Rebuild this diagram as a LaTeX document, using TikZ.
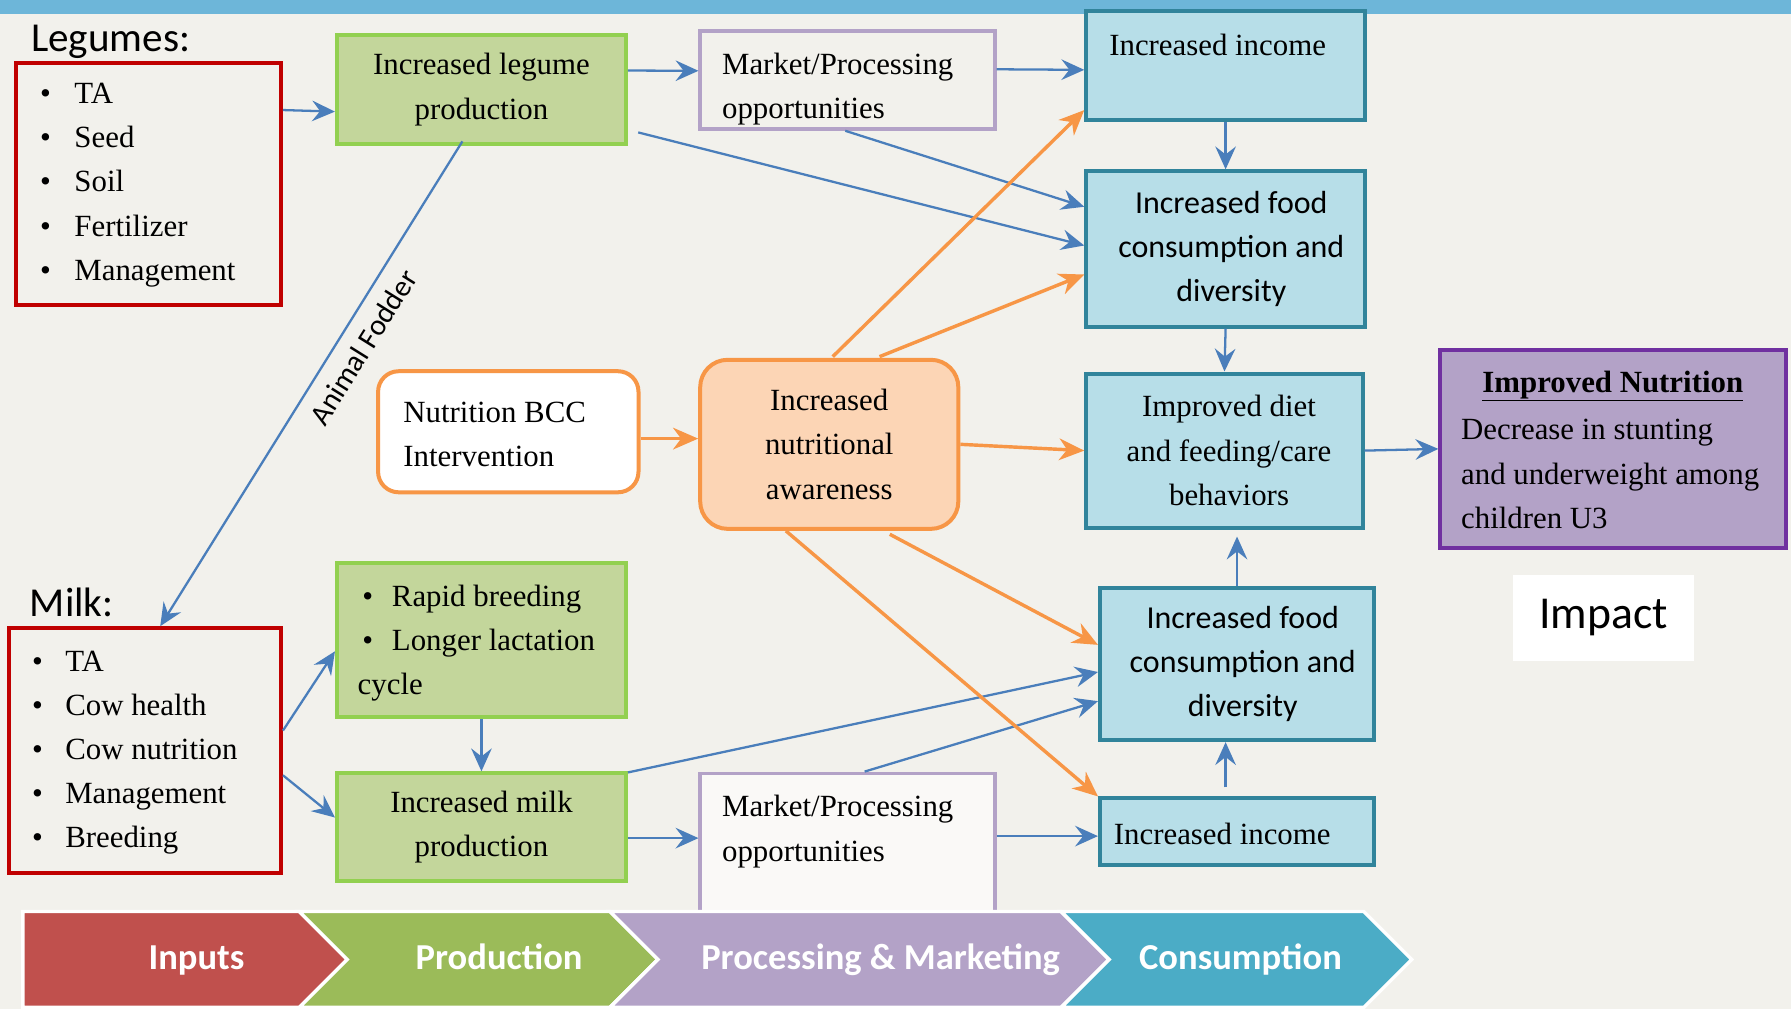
\documentclass[tikz,border=0pt]{standalone}
\usepackage{fontspec}
\setmainfont{Liberation Serif}
\newfontfamily\calibri{Carlito}
\usetikzlibrary{arrows.meta,calc}
\definecolor{bgc}{HTML}{F2F1EC}
\definecolor{topbar}{HTML}{6DB6D9}
\definecolor{redc}{HTML}{C00000}
\definecolor{greenb}{HTML}{92D050}
\definecolor{greenf}{HTML}{C3D69B}
\definecolor{tealb}{HTML}{31849B}
\definecolor{tealf}{HTML}{B7DEE8}
\definecolor{lav}{HTML}{B3A2C7}
\definecolor{purpb}{HTML}{7030A0}
\definecolor{orangec}{HTML}{F79646}
\definecolor{orangef}{HTML}{FCD5B5}
\definecolor{arrowblue}{HTML}{4A7EBB}
\definecolor{chred}{HTML}{C0504D}
\definecolor{chgreen}{HTML}{9BBB59}
\definecolor{chlav}{HTML}{B3A2C7}
\definecolor{chblue}{HTML}{4BACC6}
\newcommand{\serfont}{\fontsize{27}{38.7}\selectfont}
\newcommand{\sanfont}{\calibri\fontsize{28}{38.5}\selectfont}
\newcommand{\bulA}{\makebox[30pt][l]{•}}
\newcommand{\bulB}{\makebox[29pt][l]{•}}
\tikzset{
  every node/.style={inner sep=0pt},
  sertext/.style={font=\serfont},
  santext/.style={font=\sanfont},
  redbox/.style={draw=redc, line width=3.5pt},
  greenbox/.style={draw=greenb, fill=greenf, line width=3.5pt},
  tealbox/.style={draw=tealb, fill=tealf, line width=3.5pt},
  lavbox/.style={draw=lav, line width=3pt},
  orbox/.style={draw=orangec, line width=3.5pt, rounded corners=18pt},
  barrow/.style={draw=arrowblue, line width=2pt, -{Stealth[length=20pt,width=18pt,inset=7pt]}},
  oarrow/.style={draw=orangec, line width=3pt, -{Stealth[length=22pt,width=19pt,inset=7pt]}},
  chev/.style={draw=white, line width=3pt, line join=miter},
  chevtext/.style={text=white, anchor=base, font=\calibri\bfseries\fontsize{32}{36}\selectfont}
}
\begin{document}
\begin{tikzpicture}[x=1pt,y=-1pt]
\fill[bgc] (0,0) rectangle (1568,883);
\useasboundingbox (0,0) rectangle (1568,883);
\fill[topbar] (0,0) rectangle (1568,12);

% ---------- Inputs ----------
\node[anchor=base west, font=\calibri\fontsize{36}{40}\selectfont] (legTitle) at (27,45) {Legumes:};
\node[redbox, minimum width=232pt, minimum height=212pt] (legBox) at (130,161) {};
\node[sertext, align=left, anchor=west] (legList) at (35,162)
  {\bulA TA\\ \bulA Seed\\ \bulA Soil\\ \bulA Fertilizer\\ \bulA Management};

\node[anchor=base west, font=\calibri\fontsize{36}{40}\selectfont] (milkTitle) at (26,540) {Milk:};
\node[redbox, minimum width=238pt, minimum height=214pt] (milkBox) at (127,657) {};
\node[sertext, align=left, anchor=west] (milkList) at (28,659)
  {\bulB TA\\ \bulB Cow health\\ \bulB Cow nutrition\\ \bulB Management\\ \bulB Breeding};

% ---------- Production ----------
\node[greenbox, minimum width=253pt, minimum height=95pt, sertext, align=center] (green1) at (421.5,78.5)
  {Increased legume\\production};
\node[greenbox, minimum width=253pt, minimum height=135pt] (green2) at (421.5,560.5) {};
\node[sertext, align=left, anchor=west] (green2txt) at (313,563)
  {\hspace{4pt}\makebox[26pt][l]{•}Rapid breeding\\ \hspace{4pt}\makebox[26pt][l]{•}Longer lactation\\cycle};
\node[greenbox, minimum width=253pt, minimum height=94pt, sertext, align=center] (green3) at (421.5,724)
  {Increased milk\\production};

% ---------- Processing ----------
\node[lavbox, minimum width=258pt, minimum height=86pt] (mkt1) at (742,70) {};
\node[sertext, align=left, anchor=west] (mkt1txt) at (632,78) {Market/Processing\\opportunities};
\node[lavbox, fill=white!60!bgc, minimum width=258pt, minimum height=153pt] (mkt2) at (742,753.5) {};
\node[sertext, align=left, anchor=west] (mkt2txt) at (632,728) {Market/Processing\\opportunities};

% ---------- BCC ----------
\node[orbox, fill=white, minimum width=228pt, minimum height=106pt] (bcc) at (445,378) {};
\node[sertext, align=left, anchor=west] (bcctxt) at (353,380) {Nutrition BCC\\Intervention};
\node[orbox, fill=orangef, rounded corners=24pt, minimum width=226pt, minimum height=148pt, sertext, align=center] (aware) at (726,389)
  {Increased\\nutritional\\awareness};

% ---------- Consumption ----------
\node[tealbox, minimum width=244pt, minimum height=95pt] (inc1) at (1073,57.5) {};
\node[sertext, anchor=base] (inc1txt) at (1066,49) {Increased income};
\node[tealbox, minimum width=244pt, minimum height=136pt, santext, align=center] (food1) at (1073,218)
  {\hspace*{10pt}Increased food\\\hspace*{10pt}consumption and\\\hspace*{10pt}diversity};
\node[tealbox, minimum width=242pt, minimum height=135pt, sertext, align=center] (diet) at (1072,394.5)
  {\hspace*{8pt}Improved diet\\\hspace*{8pt}and feeding/care\\\hspace*{8pt}behaviors};
\node[tealbox, minimum width=240pt, minimum height=133pt, santext, align=center] (food2) at (1083,581.5)
  {\hspace*{10pt}Increased food\\\hspace*{10pt}consumption and\\\hspace*{10pt}diversity};
\node[tealbox, minimum width=240pt, minimum height=58pt] (inc2) at (1083,728) {};
\node[sertext, anchor=west] (inc2txt) at (975,730) {Increased income};

% ---------- Impact ----------
\node[draw=purpb, fill=chlav, line width=3.5pt, minimum width=303pt, minimum height=174pt] (nutr) at (1412.5,393) {};
\node[sertext, anchor=center] (nutrTitle) at (1412,338) {\textbf{\underline{Improved Nutrition}}};
\node[sertext, align=left, anchor=west] (nutrBody) at (1279,415)
  {Decrease in stunting\\and underweight among\\children U3};
\node[fill=white, minimum width=158pt, minimum height=76pt, font=\calibri\fontsize{40}{44}\selectfont] (impact) at (1404,541) {Impact};

% ---------- blue connectors ----------
\draw[barrow] ($(legBox.north east)!0.2!(legBox.south east)$) -- ($(green1.north west)!0.695!(green1.south west)$);
\draw[barrow] ($(green1.north east)!0.33!(green1.south east)$) -- ($(mkt1.north west)!0.41!(mkt1.south west)$);
\draw[barrow] ($(mkt1.north east)!0.395!(mkt1.south east)$) -- ($(inc1.north west)!0.537!(inc1.south west)$);
\draw[barrow] (inc1.south) -- (food1.north);
\draw[barrow] (food1.south) -- (diet.north);
\draw[barrow] (diet.east) -- (nutr.west);
\draw[barrow] ($(green1.north east)!0.88!(green1.south east)+(9,0)$) -- ($(food1.north west)!0.478!(food1.south west)$);
\draw[barrow] ($(mkt1.south)+(-2,0)$) -- ($(food1.north west)!0.235!(food1.south west)$);
\draw[barrow] ($(green1.south west)!0.435!(green1.south east)+(0,-4)$)
  -- ($(milkBox.north west)!0.555!(milkBox.north east)$);
\node[rotate=58, font=\calibri\fontsize{26}{30}\selectfont] (fodderLbl) at (318,304) {Animal Fodder};
\draw[barrow] ($(milkBox.north east)!0.42!(milkBox.south east)$) -- ($(green2.north west)!0.57!(green2.south west)$);
\draw[barrow] ($(milkBox.north east)!0.6!(milkBox.south east)$) -- ($(green3.north west)!0.415!(green3.south west)$);
\draw[barrow] (green2.south) -- (green3.north);
\coordinate (g3out) at ($(green3.north east)!0.6!(green3.south east)$);
\draw[barrow] (g3out) -- (g3out -| mkt2.west);
\coordinate (inc2in) at ($(inc2.west)+(0,4)$);
\draw[barrow] (inc2in -| mkt2.east) -- (inc2in);
\draw[barrow] ($(inc2.north)+(-10,-8)$) -- ($(food2.south)+(-10,0)$);
\coordinate (f2top) at (food2.north);
\draw[barrow] (f2top) -- ($(diet.south -| f2top)+(0,6)$);
\draw[barrow] ($(green3.north east)+(0,1)$) -- ($(food2.north west)!0.55!(food2.south west)$);
\draw[barrow] ($(mkt2.north)+(15,0)$) -- ($(food2.north west)!0.737!(food2.south west)$);

% ---------- orange connectors ----------
\coordinate (bccOut) at ($(bcc.east)+(0,6)$);
\draw[oarrow] (bccOut) -- (bccOut -| aware.west);
\draw[oarrow] ($(aware.north)+(3,-1)$) -- ($(inc1.north west)!0.895!(inc1.south west)$);
\draw[oarrow] ($(aware.north)+(44,-1)$) -- ($(food1.north west)!0.66!(food1.south west)$);
\draw[oarrow] (aware.east) -- (diet.west);
\draw[oarrow] ($(aware.south)+(53,3)$) -- ($(food2.north west)!0.376!(food2.south west)$);
\draw[oarrow] ($(aware.south)+(-38,0)$) -- (inc2.north west);

% ---------- value chain band ----------
\filldraw[chev, fill=chred] (20,798) -- (262,798) -- (304,840) -- (262,882) -- (20,882) -- cycle;
\filldraw[chev, fill=chgreen] (262,798) -- (534,798) -- (576,840) -- (534,882) -- (262,882) -- (304,840) -- cycle;
\filldraw[chev, fill=chlav] (534,798) -- (929,798) -- (971,840) -- (929,882) -- (534,882) -- (576,840) -- cycle;
\filldraw[chev, fill=chblue] (929,798) -- (1194,798) -- (1236,840) -- (1194,882) -- (929,882) -- (971,840) -- cycle;
\node[chevtext] (chInputs) at (172,849) {Inputs};
\node[chevtext] (chProd) at (437,849) {Production};
\node[chevtext] (chProc) at (771,849) {Processing \& Marketing};
\node[chevtext] (chCons) at (1086,849) {Consumption};
\end{tikzpicture}
\end{document}
